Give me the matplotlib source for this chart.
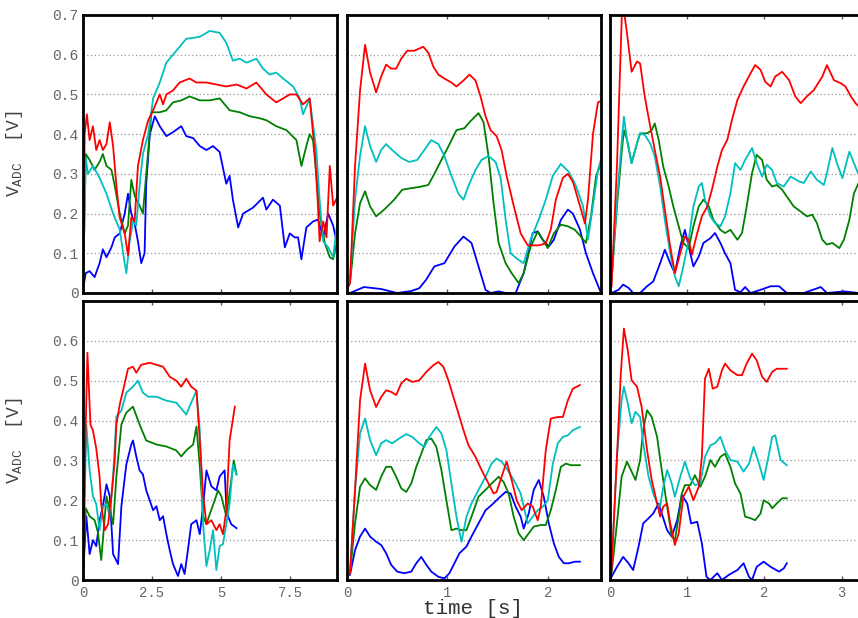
import numpy as np
import matplotlib.pyplot as plt

plt.rcParams['font.family'] = ['Liberation Mono', 'DejaVu Sans Mono']
plt.rcParams['mathtext.default'] = 'regular'

# ---- top-left panel ----
t_tl_r = [0, 0.06, 0.14, 0.24, 0.36, 0.48, 0.60, 0.72, 0.85, 0.97, 1.09, 1.21, 1.33, 1.51, 1.63, 1.75, 1.87, 1.99, 2.17, 2.36,
          2.54, 2.78, 2.90, 3.02, 3.26, 3.50, 3.86, 4.11, 4.47, 4.83, 5.19, 5.56, 5.92, 6.28, 6.64, 7.00, 7.25, 7.49, 7.73,
          7.97, 8.21, 8.39, 8.51, 8.57, 8.70, 8.82, 8.94, 9.06, 9.20]
v_tl_r = [0.02, 0.40, 0.45, 0.385, 0.42, 0.36, 0.385, 0.36, 0.375, 0.43, 0.37, 0.27, 0.19, 0.15, 0.095, 0.19, 0.18, 0.32, 0.385,
          0.435, 0.46, 0.50, 0.475, 0.50, 0.51, 0.53, 0.54, 0.53, 0.53, 0.525, 0.52, 0.525, 0.515, 0.53, 0.50, 0.48, 0.49, 0.50,
          0.50, 0.475, 0.49, 0.36, 0.22, 0.13, 0.18, 0.14, 0.32, 0.22, 0.24]
t_tl_c = [0, 0.10, 0.18, 0.36, 0.60, 0.85, 1.09, 1.33, 1.51, 1.57, 1.69, 1.81, 1.93, 2.05, 2.17, 2.36, 2.54, 2.78, 3.02, 3.38,
          3.74, 4.23, 4.59, 4.95, 5.19, 5.43, 5.68, 5.92, 6.28, 6.52, 6.76, 7.00, 7.25, 7.61, 7.85, 7.97, 8.21, 8.45, 8.57,
          8.70, 8.88, 9.06, 9.20]
v_tl_c = [0.01, 0.34, 0.30, 0.32, 0.29, 0.25, 0.20, 0.16, 0.075, 0.05, 0.13, 0.18, 0.17, 0.27, 0.35, 0.40, 0.49, 0.53, 0.58,
          0.61, 0.64, 0.645, 0.66, 0.655, 0.63, 0.585, 0.59, 0.58, 0.59, 0.565, 0.55, 0.555, 0.54, 0.52, 0.49, 0.45, 0.49,
          0.36, 0.235, 0.13, 0.115, 0.09, 0.17]
t_tl_g = [0, 0.10, 0.24, 0.42, 0.60, 0.72, 0.85, 1.03, 1.15, 1.33, 1.51, 1.63, 1.75, 1.87, 2.05, 2.17, 2.29, 2.48, 2.78, 3.02,
          3.26, 3.56, 3.86, 4.23, 4.59, 4.95, 5.31, 5.68, 6.04, 6.40, 6.64, 7.00, 7.37, 7.73, 7.91, 8.09, 8.21, 8.33, 8.45,
          8.57, 8.76, 8.94, 9.06, 9.20]
v_tl_g = [0.01, 0.35, 0.335, 0.31, 0.33, 0.35, 0.32, 0.31, 0.27, 0.20, 0.15, 0.17, 0.285, 0.245, 0.22, 0.20, 0.30, 0.455, 0.455,
          0.46, 0.48, 0.485, 0.495, 0.485, 0.485, 0.49, 0.46, 0.455, 0.445, 0.44, 0.435, 0.42, 0.41, 0.385, 0.32, 0.37, 0.40,
          0.385, 0.30, 0.20, 0.125, 0.09, 0.085, 0.13]
t_tl_b = [0, 0.10, 0.24, 0.42, 0.60, 0.72, 0.85, 1.03, 1.15, 1.33, 1.51, 1.63, 1.75, 1.87, 1.99, 2.11, 2.23, 2.29, 2.42, 2.60,
          2.78, 3.02, 3.26, 3.56, 3.74, 3.99, 4.23, 4.47, 4.71, 4.95, 5.19, 5.31, 5.43, 5.62, 5.80, 6.16, 6.52, 6.64, 6.88,
          7.13, 7.31, 7.49, 7.67, 7.79, 7.91, 8.09, 8.33, 8.51, 8.70, 8.88, 9.06, 9.20]
v_tl_b = [0.01, 0.05, 0.055, 0.04, 0.075, 0.11, 0.09, 0.115, 0.14, 0.15, 0.20, 0.25, 0.20, 0.175, 0.13, 0.075, 0.10, 0.275, 0.40,
          0.445, 0.42, 0.395, 0.405, 0.42, 0.395, 0.39, 0.37, 0.36, 0.37, 0.355, 0.275, 0.295, 0.235, 0.165, 0.20, 0.215, 0.24,
          0.21, 0.235, 0.22, 0.115, 0.15, 0.14, 0.14, 0.085, 0.165, 0.18, 0.185, 0.14, 0.20, 0.17, 0.125]

# ---- top-middle panel ----
t_tm_r = [0, 0.03, 0.08, 0.13, 0.18, 0.23, 0.29, 0.34, 0.39, 0.44, 0.49, 0.54, 0.60, 0.67, 0.76, 0.81, 0.86, 0.91, 0.97, 1.04,
          1.09, 1.16, 1.22, 1.28, 1.33, 1.38, 1.43, 1.49, 1.54, 1.59, 1.66, 1.73, 1.80, 1.85, 1.91, 1.98, 2.03, 2.08, 2.15,
          2.20, 2.25, 2.32, 2.37, 2.40, 2.45, 2.50, 2.54]
v_tm_r = [0.01, 0.025, 0.32, 0.51, 0.625, 0.555, 0.505, 0.545, 0.575, 0.565, 0.565, 0.59, 0.61, 0.61, 0.62, 0.605, 0.57, 0.55,
          0.54, 0.53, 0.52, 0.535, 0.55, 0.535, 0.495, 0.445, 0.41, 0.395, 0.36, 0.295, 0.22, 0.15, 0.12, 0.12, 0.12, 0.125,
          0.16, 0.235, 0.29, 0.30, 0.28, 0.22, 0.175, 0.235, 0.40, 0.48, 0.485]
t_tm_c = [0, 0.03, 0.08, 0.13, 0.18, 0.23, 0.29, 0.34, 0.39, 0.45, 0.54, 0.62, 0.70, 0.77, 0.84, 0.91, 0.97, 1.04, 1.11, 1.16,
          1.21, 1.28, 1.34, 1.41, 1.48, 1.53, 1.58, 1.63, 1.70, 1.76, 1.83, 1.91, 1.98, 2.05, 2.13, 2.21, 2.28, 2.35, 2.40,
          2.45, 2.50, 2.54]
v_tm_c = [0.01, 0.035, 0.235, 0.345, 0.42, 0.37, 0.33, 0.36, 0.375, 0.36, 0.34, 0.33, 0.335, 0.36, 0.385, 0.375, 0.345, 0.295,
          0.25, 0.235, 0.27, 0.31, 0.335, 0.345, 0.33, 0.29, 0.185, 0.10, 0.085, 0.075, 0.135, 0.185, 0.235, 0.295, 0.325,
          0.305, 0.27, 0.22, 0.135, 0.22, 0.31, 0.345]
t_tm_g = [0, 0.03, 0.08, 0.13, 0.18, 0.23, 0.29, 0.37, 0.47, 0.55, 0.64, 0.72, 0.81, 0.87, 0.94, 1.01, 1.09, 1.17, 1.22, 1.31,
          1.36, 1.41, 1.46, 1.51, 1.58, 1.64, 1.71, 1.76, 1.83, 1.90, 1.95, 2.00, 2.06, 2.13, 2.20, 2.27, 2.33, 2.38, 2.43,
          2.48, 2.53]
v_tm_g = [0.01, 0.025, 0.15, 0.226, 0.256, 0.218, 0.193, 0.21, 0.235, 0.26, 0.264, 0.267, 0.272, 0.30, 0.335, 0.369, 0.41,
          0.415, 0.43, 0.453, 0.43, 0.344, 0.226, 0.126, 0.075, 0.05, 0.025, 0.05, 0.117, 0.155, 0.134, 0.113, 0.15, 0.172,
          0.168, 0.159, 0.142, 0.126, 0.193, 0.293, 0.327]
t_tm_b = [0, 0.03, 0.17, 0.34, 0.50, 0.64, 0.72, 0.79, 0.87, 0.97, 1.07, 1.16, 1.24, 1.31, 1.38, 1.43, 1.51, 1.58, 1.68, 1.76,
          1.85, 1.90, 1.95, 2.01, 2.06, 2.13, 2.20, 2.25, 2.32, 2.38, 2.45, 2.53]
v_tm_b = [0.0, 0.0, 0.015, 0.01, 0.0, 0.005, 0.012, 0.034, 0.067, 0.075, 0.117, 0.142, 0.126, 0.067, 0.008, 0.0, 0.004, 0.0,
          0.0, 0.05, 0.151, 0.155, 0.134, 0.117, 0.134, 0.184, 0.21, 0.20, 0.16, 0.10, 0.05, 0.0]

# ---- top-right panel ----
t_tr_r = [0, 0.02, 0.09, 0.16, 0.22, 0.28, 0.35, 0.39, 0.45, 0.52, 0.58, 0.65, 0.71, 0.78, 0.84, 0.91, 0.97, 1.02, 1.06, 1.13,
          1.19, 1.26, 1.32, 1.39, 1.45, 1.52, 1.58, 1.65, 1.73, 1.82, 1.88, 1.95, 2.01, 2.08, 2.14, 2.23, 2.32, 2.40, 2.47,
          2.55, 2.64, 2.75, 2.81, 2.90, 2.99, 3.05, 3.12, 3.18, 3.22, 3.30]
v_tr_r = [0.01, 0.017, 0.32, 0.74, 0.654, 0.557, 0.583, 0.578, 0.495, 0.42, 0.36, 0.293, 0.21, 0.117, 0.05, 0.10, 0.142, 0.134,
          0.096, 0.151, 0.193, 0.218, 0.26, 0.318, 0.36, 0.386, 0.436, 0.486, 0.52, 0.553, 0.574, 0.562, 0.532, 0.52, 0.545,
          0.557, 0.536, 0.495, 0.478, 0.495, 0.511, 0.545, 0.574, 0.536, 0.528, 0.52, 0.495, 0.478, 0.47, 0.46]
t_tr_c = [0, 0.02, 0.09, 0.15, 0.18, 0.22, 0.28, 0.35, 0.39, 0.45, 0.52, 0.58, 0.65, 0.71, 0.78, 0.84, 0.89, 0.95, 1.02, 1.08,
          1.15, 1.19, 1.23, 1.30, 1.36, 1.43, 1.49, 1.56, 1.62, 1.69, 1.75, 1.84, 1.90, 1.97, 2.03, 2.10, 2.16, 2.25, 2.34,
          2.45, 2.51, 2.60, 2.68, 2.77, 2.81, 2.88, 2.94, 3.01, 3.10, 3.16, 3.22, 3.30]
v_tr_c = [0.01, 0.034, 0.235, 0.377, 0.444, 0.386, 0.327, 0.377, 0.402, 0.398, 0.377, 0.344, 0.268, 0.184, 0.10, 0.042, 0.017,
          0.067, 0.134, 0.218, 0.268, 0.277, 0.235, 0.193, 0.176, 0.168, 0.193, 0.251, 0.327, 0.31, 0.335, 0.365, 0.327, 0.293,
          0.323, 0.31, 0.277, 0.268, 0.293, 0.281, 0.277, 0.306, 0.285, 0.272, 0.302, 0.365, 0.327, 0.289, 0.356, 0.327,
          0.298, 0.29]
t_tr_g = [0, 0.02, 0.09, 0.15, 0.18, 0.22, 0.28, 0.35, 0.39, 0.48, 0.54, 0.58, 0.63, 0.69, 0.76, 0.82, 0.89, 0.95, 1.02, 1.08,
          1.15, 1.21, 1.28, 1.34, 1.43, 1.49, 1.56, 1.65, 1.71, 1.77, 1.84, 1.90, 1.97, 2.03, 2.10, 2.16, 2.23, 2.29, 2.38,
          2.47, 2.55, 2.62, 2.68, 2.75, 2.81, 2.88, 2.97, 3.03, 3.10, 3.16, 3.22, 3.30]
v_tr_g = [0.01, 0.034, 0.218, 0.352, 0.41, 0.386, 0.327, 0.377, 0.402, 0.402, 0.41, 0.427, 0.386, 0.318, 0.268, 0.218, 0.168,
          0.126, 0.113, 0.168, 0.218, 0.235, 0.218, 0.184, 0.159, 0.151, 0.159, 0.134, 0.151, 0.218, 0.302, 0.348, 0.335,
          0.285, 0.268, 0.272, 0.26, 0.243, 0.218, 0.205, 0.193, 0.197, 0.176, 0.134, 0.122, 0.126, 0.113, 0.134, 0.184,
          0.251, 0.277, 0.29]
t_tr_b = [0, 0.02, 0.11, 0.17, 0.24, 0.30, 0.39, 0.48, 0.56, 0.65, 0.71, 0.78, 0.84, 0.91, 0.97, 1.02, 1.08, 1.15, 1.21, 1.30,
          1.36, 1.43, 1.49, 1.56, 1.62, 1.69, 1.75, 1.82, 1.95, 2.08, 2.19, 2.29, 2.51, 2.73, 2.81, 3.03, 3.22, 3.30]
v_tr_b = [0.0, 0.0, 0.008, 0.021, 0.013, 0.0, 0.0, 0.017, 0.029, 0.075, 0.109, 0.075, 0.05, 0.117, 0.159, 0.117, 0.067, 0.092,
          0.126, 0.138, 0.151, 0.126, 0.10, 0.075, 0.008, 0.002, 0.015, 0.0, 0.008, 0.017, 0.017, 0.0, 0.0, 0.015, 0.0,
          0.004, 0.0, 0.0]

# ---- bottom-left panel ----
t_bl_r = [0, 0.10, 0.16, 0.27, 0.36, 0.48, 0.60, 0.66, 0.79, 0.91, 1.03, 1.15, 1.21, 1.33, 1.45, 1.63, 1.81, 1.93, 2.11, 2.42,
          2.66, 2.90, 3.14, 3.38, 3.56, 3.74, 3.92, 4.11, 4.23, 4.35, 4.47, 4.65, 4.83, 4.95, 5.07, 5.19, 5.31, 5.50]
v_bl_r = [0.01, 0.39, 0.57, 0.39, 0.375, 0.33, 0.26, 0.19, 0.125, 0.14, 0.21, 0.30, 0.39, 0.44, 0.475, 0.53, 0.535, 0.52, 0.54,
          0.545, 0.54, 0.535, 0.51, 0.50, 0.485, 0.505, 0.485, 0.475, 0.35, 0.215, 0.14, 0.15, 0.125, 0.14, 0.115, 0.175,
          0.35, 0.435]
t_bl_c = [0, 0.12, 0.24, 0.36, 0.48, 0.60, 0.72, 0.85, 0.97, 1.09, 1.21, 1.39, 1.57, 1.81, 1.99, 2.17, 2.36, 2.66, 3.02, 3.38,
          3.74, 3.92, 4.11, 4.23, 4.35, 4.47, 4.59, 4.71, 4.83, 4.95, 5.07, 5.19, 5.31, 5.43, 5.56]
v_bl_c = [0.01, 0.39, 0.275, 0.21, 0.19, 0.125, 0.185, 0.19, 0.16, 0.26, 0.41, 0.425, 0.47, 0.485, 0.50, 0.47, 0.46, 0.46, 0.45,
          0.445, 0.415, 0.445, 0.475, 0.375, 0.14, 0.035, 0.075, 0.125, 0.025, 0.085, 0.09, 0.14, 0.19, 0.29, 0.265]
t_bl_g = [0, 0.10, 0.24, 0.42, 0.54, 0.66, 0.79, 0.85, 0.97, 1.09, 1.21, 1.39, 1.57, 1.81, 2.05, 2.29, 2.66, 3.02, 3.38, 3.56,
          3.74, 3.99, 4.11, 4.23, 4.35, 4.47, 4.59, 4.77, 4.89, 5.01, 5.19, 5.37, 5.46, 5.56]
v_bl_g = [0.01, 0.18, 0.16, 0.15, 0.12, 0.05, 0.16, 0.21, 0.175, 0.14, 0.26, 0.39, 0.42, 0.435, 0.39, 0.35, 0.34, 0.335, 0.325,
          0.31, 0.325, 0.34, 0.385, 0.285, 0.16, 0.14, 0.165, 0.20, 0.225, 0.21, 0.16, 0.25, 0.30, 0.265]
t_bl_b = [0, 0.12, 0.24, 0.36, 0.48, 0.60, 0.72, 0.85, 0.97, 1.09, 1.27, 1.39, 1.57, 1.75, 1.81, 1.93, 2.05, 2.17, 2.29, 2.54,
          2.66, 2.78, 2.90, 3.02, 3.14, 3.26, 3.44, 3.56, 3.68, 3.80, 3.92, 4.11, 4.23, 4.35, 4.47, 4.65, 4.83, 4.95, 5.13,
          5.19, 5.25, 5.37, 5.56]
v_bl_b = [0.01, 0.16, 0.065, 0.10, 0.085, 0.15, 0.185, 0.24, 0.21, 0.065, 0.04, 0.185, 0.29, 0.34, 0.35, 0.31, 0.275, 0.265,
          0.225, 0.175, 0.185, 0.15, 0.16, 0.115, 0.075, 0.04, 0.01, 0.04, 0.015, 0.075, 0.14, 0.15, 0.115, 0.185, 0.275,
          0.235, 0.225, 0.26, 0.275, 0.185, 0.16, 0.14, 0.13]

# ---- bottom-middle panel ----
t_bm_r = [0, 0.03, 0.08, 0.13, 0.18, 0.23, 0.29, 0.34, 0.39, 0.44, 0.49, 0.54, 0.59, 0.65, 0.72, 0.79, 0.86, 0.91, 0.96, 1.01,
          1.06, 1.11, 1.16, 1.21, 1.28, 1.34, 1.41, 1.46, 1.49, 1.54, 1.59, 1.64, 1.69, 1.74, 1.80, 1.85, 1.90, 1.93, 1.98,
          2.03, 2.10, 2.15, 2.20, 2.25, 2.32]
v_bm_r = [0.01, 0.017, 0.226, 0.451, 0.543, 0.476, 0.434, 0.459, 0.476, 0.472, 0.464, 0.493, 0.505, 0.497, 0.501, 0.522, 0.539,
          0.547, 0.535, 0.501, 0.459, 0.418, 0.376, 0.338, 0.309, 0.276, 0.242, 0.217, 0.221, 0.259, 0.297, 0.251, 0.20, 0.175,
          0.192, 0.184, 0.15, 0.184, 0.326, 0.405, 0.409, 0.409, 0.451, 0.48, 0.489]
t_bm_c = [0, 0.03, 0.08, 0.13, 0.18, 0.23, 0.29, 0.34, 0.39, 0.45, 0.52, 0.59, 0.65, 0.72, 0.77, 0.82, 0.89, 0.94, 0.99, 1.04,
          1.09, 1.14, 1.19, 1.24, 1.31, 1.38, 1.44, 1.49, 1.54, 1.61, 1.68, 1.73, 1.80, 1.85, 1.90, 1.95, 2.00, 2.05, 2.10,
          2.15, 2.20, 2.25, 2.32]
v_bm_c = [0.01, 0.017, 0.226, 0.368, 0.405, 0.351, 0.313, 0.343, 0.351, 0.343, 0.355, 0.366, 0.359, 0.343, 0.334, 0.359, 0.384,
          0.368, 0.326, 0.242, 0.159, 0.096, 0.159, 0.192, 0.226, 0.259, 0.292, 0.305, 0.297, 0.272, 0.242, 0.217, 0.142,
          0.159, 0.175, 0.184, 0.20, 0.292, 0.343, 0.359, 0.363, 0.376, 0.384]
t_bm_g = [0, 0.03, 0.08, 0.13, 0.18, 0.23, 0.29, 0.34, 0.39, 0.44, 0.49, 0.54, 0.59, 0.64, 0.69, 0.74, 0.79, 0.84, 0.89, 0.94,
          0.99, 1.04, 1.09, 1.14, 1.19, 1.24, 1.31, 1.38, 1.44, 1.51, 1.56, 1.61, 1.66, 1.71, 1.76, 1.81, 1.86, 1.93, 1.98,
          2.03, 2.08, 2.13, 2.18, 2.23, 2.32]
v_bm_g = [0.01, 0.017, 0.142, 0.234, 0.255, 0.238, 0.226, 0.259, 0.284, 0.284, 0.259, 0.23, 0.221, 0.242, 0.284, 0.317, 0.351,
          0.355, 0.334, 0.276, 0.20, 0.125, 0.129, 0.125, 0.125, 0.159, 0.209, 0.226, 0.242, 0.259, 0.246, 0.217, 0.159, 0.117,
          0.10, 0.117, 0.134, 0.138, 0.138, 0.175, 0.226, 0.284, 0.292, 0.288, 0.288]
t_bm_b = [0, 0.03, 0.08, 0.13, 0.18, 0.23, 0.29, 0.34, 0.39, 0.44, 0.50, 0.57, 0.64, 0.69, 0.74, 0.79, 0.84, 0.91, 0.97, 1.02,
          1.07, 1.12, 1.19, 1.24, 1.31, 1.38, 1.44, 1.51, 1.58, 1.63, 1.68, 1.73, 1.76, 1.81, 1.86, 1.91, 1.96, 2.01, 2.06,
          2.11, 2.16, 2.21, 2.27, 2.32]
v_bm_b = [0.01, 0.013, 0.075, 0.109, 0.129, 0.109, 0.096, 0.088, 0.067, 0.038, 0.021, 0.017, 0.021, 0.042, 0.058, 0.038, 0.021,
          0.008, 0.004, 0.017, 0.042, 0.067, 0.084, 0.109, 0.142, 0.175, 0.188, 0.205, 0.221, 0.217, 0.184, 0.159, 0.129,
          0.167, 0.226, 0.251, 0.209, 0.142, 0.092, 0.058, 0.042, 0.042, 0.046, 0.046]

# ---- bottom-right panel ----
t_br_r = [0, 0.02, 0.09, 0.14, 0.18, 0.23, 0.28, 0.35, 0.41, 0.48, 0.54, 0.61, 0.65, 0.69, 0.74, 0.78, 0.84, 0.89, 0.95, 1.02,
          1.08, 1.15, 1.19, 1.23, 1.28, 1.33, 1.39, 1.45, 1.49, 1.56, 1.65, 1.71, 1.77, 1.84, 1.90, 1.97, 2.03, 2.10, 2.16,
          2.29]
v_br_r = [0.01, 0.025, 0.309, 0.518, 0.631, 0.576, 0.501, 0.485, 0.434, 0.326, 0.251, 0.192, 0.159, 0.184, 0.192, 0.142, 0.088,
          0.117, 0.209, 0.234, 0.20, 0.234, 0.309, 0.505, 0.53, 0.48, 0.485, 0.526, 0.543, 0.526, 0.514, 0.514, 0.543, 0.568,
          0.551, 0.51, 0.497, 0.522, 0.53, 0.53]
t_br_c = [0, 0.02, 0.09, 0.15, 0.18, 0.23, 0.28, 0.33, 0.39, 0.43, 0.50, 0.56, 0.61, 0.65, 0.69, 0.74, 0.80, 0.84, 0.91, 0.97,
          1.04, 1.10, 1.17, 1.23, 1.30, 1.36, 1.43, 1.49, 1.56, 1.65, 1.73, 1.80, 1.86, 1.93, 1.99, 2.06, 2.10, 2.14, 2.21,
          2.29]
v_br_c = [0.01, 0.033, 0.309, 0.451, 0.485, 0.443, 0.393, 0.422, 0.409, 0.343, 0.259, 0.217, 0.192, 0.184, 0.234, 0.276, 0.242,
          0.209, 0.259, 0.297, 0.255, 0.238, 0.242, 0.309, 0.338, 0.343, 0.359, 0.326, 0.301, 0.297, 0.272, 0.292, 0.334,
          0.292, 0.251, 0.317, 0.359, 0.363, 0.301, 0.288]
t_br_g = [0, 0.02, 0.09, 0.15, 0.22, 0.28, 0.33, 0.39, 0.43, 0.48, 0.54, 0.61, 0.67, 0.74, 0.80, 0.84, 0.89, 0.93, 0.97, 1.04,
          1.10, 1.17, 1.23, 1.30, 1.36, 1.43, 1.49, 1.56, 1.62, 1.69, 1.75, 1.82, 1.88, 1.95, 1.99, 2.06, 2.10, 2.16, 2.23,
          2.29]
v_br_g = [0.01, 0.017, 0.142, 0.259, 0.297, 0.272, 0.251, 0.301, 0.376, 0.426, 0.409, 0.359, 0.276, 0.184, 0.109, 0.10, 0.159,
          0.217, 0.238, 0.238, 0.263, 0.234, 0.259, 0.301, 0.284, 0.309, 0.317, 0.284, 0.242, 0.217, 0.159, 0.155, 0.15,
          0.167, 0.20, 0.192, 0.18, 0.192, 0.205, 0.205]
t_br_b = [0, 0.02, 0.09, 0.17, 0.24, 0.30, 0.37, 0.43, 0.50, 0.56, 0.63, 0.67, 0.74, 0.80, 0.87, 0.93, 1.00, 1.05, 1.13, 1.19,
          1.25, 1.30, 1.39, 1.45, 1.54, 1.65, 1.73, 1.80, 1.84, 1.90, 1.99, 2.08, 2.19, 2.25, 2.29]
v_br_b = [0.0, 0.008, 0.033, 0.058, 0.042, 0.025, 0.084, 0.142, 0.155, 0.167, 0.192, 0.167, 0.125, 0.109, 0.15, 0.213, 0.192,
          0.142, 0.146, 0.092, 0.008, 0.0, 0.017, 0.0, 0.013, 0.025, 0.042, 0.008, 0.0, 0.033, 0.046, 0.033, 0.021, 0.029,
          0.042]

# axis setup per column
x_max = [9.2, 2.53, 3.29]
x_ticks = [[0, 2.5, 5, 7.5], [0, 1, 2], [0, 1, 2, 3]]
x_ticklabels = [['0', '2.5', '5', '7.5'], ['0', '1', '2'], ['0', '1', '2', '3']]
y_ticks_top = [0, 0.1, 0.2, 0.3, 0.4, 0.5, 0.6, 0.7]
y_ticks_bottom = [0, 0.1, 0.2, 0.3, 0.4, 0.5, 0.6]

# line colours (blue drawn first, red last)
colors = {'b': '#0000ff', 'g': '#008000', 'c': '#00bfbf', 'r': '#ff0000'}

panels = [
    [  # top row
        {'b': (t_tl_b, v_tl_b), 'g': (t_tl_g, v_tl_g), 'c': (t_tl_c, v_tl_c), 'r': (t_tl_r, v_tl_r)},
        {'b': (t_tm_b, v_tm_b), 'g': (t_tm_g, v_tm_g), 'c': (t_tm_c, v_tm_c), 'r': (t_tm_r, v_tm_r)},
        {'b': (t_tr_b, v_tr_b), 'g': (t_tr_g, v_tr_g), 'c': (t_tr_c, v_tr_c), 'r': (t_tr_r, v_tr_r)},
    ],
    [  # bottom row
        {'b': (t_bl_b, v_bl_b), 'g': (t_bl_g, v_bl_g), 'c': (t_bl_c, v_bl_c), 'r': (t_bl_r, v_bl_r)},
        {'b': (t_bm_b, v_bm_b), 'g': (t_bm_g, v_bm_g), 'c': (t_bm_c, v_bm_c), 'r': (t_bm_r, v_bm_r)},
        {'b': (t_br_b, v_br_b), 'g': (t_br_g, v_br_g), 'c': (t_br_c, v_br_c), 'r': (t_br_r, v_br_r)},
    ],
]

W, H = 858, 618
fig = plt.figure(figsize=(W / 100, H / 100), dpi=100)

col_left = [83, 347, 610]
col_width = 254
row_top = [15, 301]
row_bottom = [293, 580]

for i in range(2):
    for j in range(3):
        l = col_left[j] / W
        b = 1 - row_bottom[i] / H
        h = (row_bottom[i] - row_top[i]) / H
        ax = fig.add_axes([l, b, col_width / W, h])

        for key in ['b', 'g', 'c', 'r']:
            t, v = panels[i][j][key]
            ax.plot(t, v, color=colors[key], linewidth=1.3)

        ax.set_xlim(0, x_max[j])
        ax.set_ylim(0, 0.7)
        ax.set_xticks(x_ticks[j])
        ax.set_xticklabels(x_ticklabels[j])
        yt = y_ticks_top if i == 0 else y_ticks_bottom
        ax.set_yticks(yt)
        ax.set_yticklabels(['0'] + ['%.1f' % y for y in yt[1:]])

        ax.grid(axis='y', linestyle=(0, (1, 2)), color='#999999', linewidth=0.9)
        ax.tick_params(axis='x', direction='in', top=True, bottom=True, length=3, width=1,
                       color='#555555', labelcolor='#666666', labelsize=10, pad=4)
        ax.tick_params(axis='y', direction='in', left=False, right=False, length=0,
                       labelcolor='#666666', labelsize=10.5, pad=3)
        if i == 0:
            ax.tick_params(axis='x', labelbottom=False)
        if j > 0:
            ax.tick_params(axis='y', labelleft=False)
        for sp in ax.spines.values():
            sp.set_linewidth(2.0)
            sp.set_color('black')

        if j == 0:
            ax.set_ylabel(r'V$_{ADC}$  [V]', fontsize=13, color='#444444')
            ax.yaxis.set_label_coords(-0.228, 0.5)

fig.text(473 / W, 1 - 609 / H, 'time [s]', ha='center', va='center', fontsize=15, color='#333333')

fig.savefig('out.png', dpi=100)
